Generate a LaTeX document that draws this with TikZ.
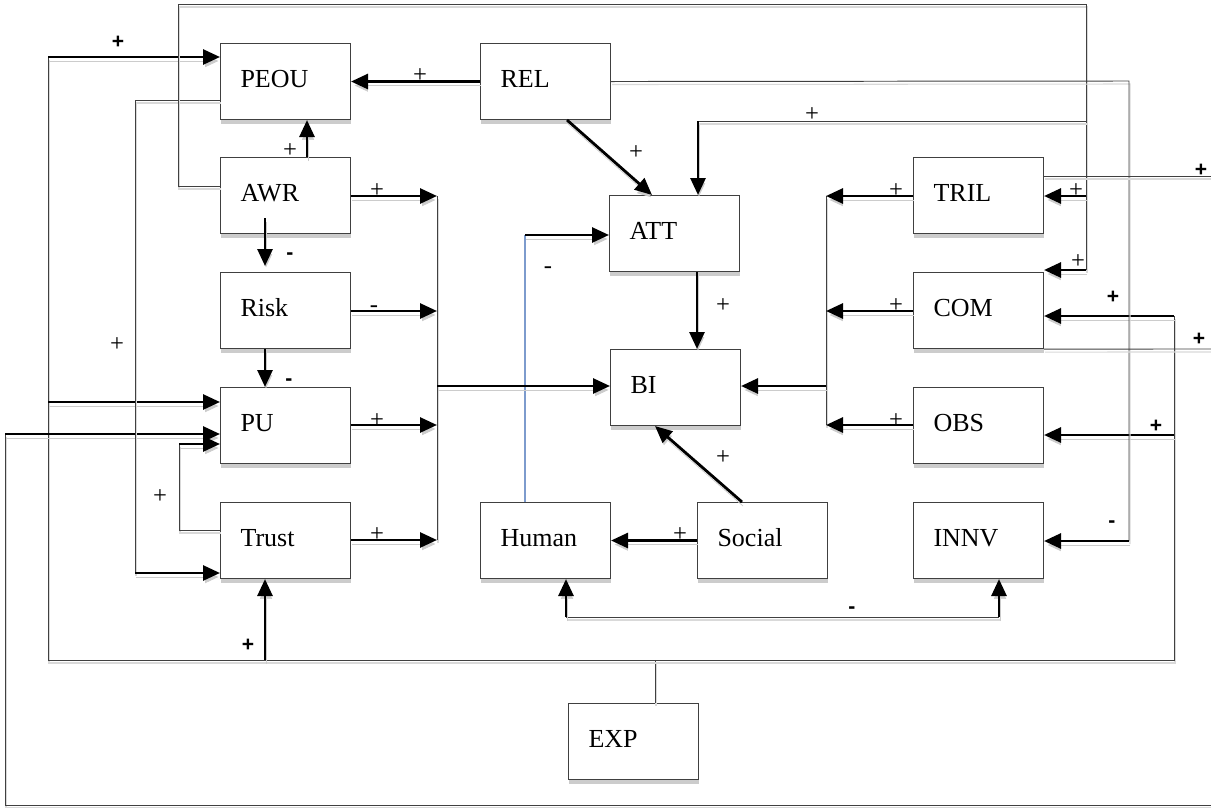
\documentclass[tikz,border=0pt]{standalone}
\usepackage{fontspec}
\setmainfont{Liberation Serif}
\newfontfamily\labsans{Liberation Sans}
\usetikzlibrary{arrows.meta,shadows}
\definecolor{paleblue}{RGB}{125,155,205}

\begin{document}
\begin{tikzpicture}[x=0.02cm,y=-0.02cm,
  box/.style={draw=black!75, line width=0.6pt, fill=white, anchor=north west,
    minimum width=2.6cm, minimum height=1.52cm, text width=1.8cm, inner xsep=0.4cm,
    text height=0.36cm, text depth=0.12cm,
    align=left, font=\fontsize{14.8}{17}\selectfont,
    drop shadow={shadow xshift=0.01cm, shadow yshift=-0.08cm, fill=black!20, opacity=1}},
  wire/.style={draw=black!75, line width=0.55pt,
    preaction={draw=black!15, line width=0.6pt, transform canvas={shift={(0.02cm,-0.06cm)}}}},
  wireblue/.style={draw=paleblue, line width=0.6pt},
  link/.style={draw=black, line width=1.6pt, -{Triangle[length=0.34cm,width=0.3cm]},
    preaction={draw=black!20, transform canvas={shift={(0.02cm,-0.08cm)}}}},
  pl/.style={font=\fontsize{14}{14}\selectfont, inner sep=0pt},
  ps/.style={font=\labsans\bfseries\fontsize{12}{12}\selectfont, inner sep=0pt}
]
\useasboundingbox (0,0) rectangle (1211,808);

% ---- boxes ----
\node[box] (peou)   at (220,43)  {PEOU};
\node[box] (awr)    at (220,157) {AWR};
\node[box] (risk)   at (220,272) {Risk};
\node[box] (pu)     at (220,387) {PU};
\node[box] (trust)  at (220,502) {Trust};
\node[box] (rel)    at (480,43)  {REL};
\node[box] (att)    at (609,195) {ATT};
\node[box] (bi)     at (610,349) {BI};
\node[box] (human)  at (480,502) {Human};
\node[box] (social) at (697,502) {Social};
\node[box] (tril)   at (913,157) {TRIL};
\node[box] (com)    at (913,272) {COM};
\node[box] (obs)    at (913,387) {OBS};
\node[box] (innv)   at (913,502) {INNV};
\node[box] (exp)    at (568,703) {EXP};

% ---- experience feedback loop ----
\coordinate (eL) at (48,660);
\coordinate (eR) at (1174,660);
\draw[wire] (exp.north -| 655,0) -- (655,660);
\draw[wire] (48,57) -- (eL) -- (eR) -- (1174,316);
\draw[link] (48,57) -- (peou.west |- 0,57);
\draw[link] (48,402) -- (pu.west |- 0,402);
\draw[link] (1174,316) -- (com.east |- 0,316);
\draw[link] (1174,435) -- (obs.east |- 0,435);
\draw[link] (265,660) -- (trust.south -| 265,0);

% ---- outer loop into PU ----
\draw[wire] (1211,805) -- (5,805) -- (5,434);
\draw[link] (5,434) -- (pu.west |- 0,434);

% ---- Trust -> PU ----
\draw[wire] (trust.west |- 0,530) -- (179,530) -- (179,444);
\draw[link] (179,444) -- (pu.west |- 0,444);

% ---- PEOU -> Trust ----
\draw[wire] (peou.west |- 0,100) -- (135,100) -- (135,573);
\draw[link] (135,573) -- (trust.west |- 0,573);

% ---- AWR -> PEOU ----
\draw[link] (awr.north -| 307,0) -- (peou.south -| 307,0);

% ---- AWR top loop ----
\draw[wire] (awr.west |- 0,186) -- (178,186) -- (178,4) -- (1086,4) -- (1086,270);
\draw[link] (1086,196) -- (tril.east |- 0,196);
\draw[link] (1086,270) -- (com.east |- 0,270);
\draw[wire] (1086,121) -- (698,121);
\draw[link] (698,121) -- (att.north -| 698,0);

% ---- REL ----
\draw[link] (rel.west) -- (peou.east);
\draw[link] (rel.south -| 567,0) -- (att.north -| 652,0);
\draw[wire] (rel.east) -- (1129,81) -- (1129,541);
\draw[link] (1129,541) -- (innv.east |- 0,541);

% ---- Human -> ATT ----
\draw[wireblue] (human.north -| 525,0) -- (525,235);
\draw[link] (525,235) -- (att.west |- 0,235);

% ---- ATT -> BI ----
\draw[link] (att.south -| 697,0) -- (bi.north -| 697,0);

% ---- left bus ----
\draw[wire] (437,196) -- (437,540);
\draw[link] (awr.east |- 0,196) -- (437,196);
\draw[link] (risk.east |- 0,311) -- (437,311);
\draw[link] (pu.east |- 0,425) -- (437,425);
\draw[link] (trust.east |- 0,540) -- (437,540);
\draw[link] (437,386) -- (bi.west |- 0,386);

% ---- right bus ----
\draw[wire] (826,196) -- (826,425);
\draw[link] (tril.west |- 0,196) -- (826,196);
\draw[link] (com.west |- 0,311) -- (826,311);
\draw[link] (obs.west |- 0,425) -- (826,425);
\draw[link] (826,386) -- (bi.east |- 0,386);

% ---- AWR -> Risk -> PU ----
\draw[link, shorten <=-0.32cm, shorten >=0.12cm] (awr.south -| 265,0) -- (risk.north -| 265,0);
\draw[link] (risk.south -| 265,0) -- (pu.north -| 265,0);

% ---- Social ----
\draw[link] (social.north -| 742,0) -- (bi.south -| 655,0);
\draw[link] (social.west) -- (human.east);

% ---- Human / INNV ----
\draw[wire] (566,617) -- (999,617);
\draw[link] (566,617) -- (human.south -| 566,0);
\draw[link] (999,617) -- (innv.south -| 999,0);

% ---- lines leaving to the right ----
\draw[wire] (tril.east |- 0,176) -- (1211,176);
\draw[wire] (com.south east) -- (1211,349);

% ---- signs ----
\node[ps] (s1)  at (118,42)  {+};
\node[pl] (s2)  at (117,345) {+};
\node[pl] (s3)  at (160,497) {+};
\node[ps] (s4)  at (248,645) {+};
\node[pl] (s5)  at (290,151) {+};
\node[ps] (s6)  at (290,256) {-};
\node[ps] (s7)  at (289,382) {-};
\node[pl] (s8)  at (377,191) {+};
\node[pl] (s9)  at (374,309) {-};
\node[pl] (s10) at (377,421) {+};
\node[pl] (s11) at (377,535) {+};
\node[pl] (s12) at (420,76)  {+};
\node[pl] (s13) at (636,153) {+};
\node[pl] (s14) at (812,115) {+};
\node[pl] (s15) at (548,270) {-};
\node[pl] (s16) at (723,306) {+};
\node[pl] (s17) at (723,458) {+};
\node[pl] (s18) at (680,535) {+};
\node[pl] (s19) at (896,191) {+};
\node[pl] (s20) at (1076,191) {+};
\node[pl] (s21) at (1078,262) {+};
\node[ps] (s22) at (1201,170) {+};
\node[pl] (s23) at (896,306) {+};
\node[ps] (s24) at (1113,297) {+};
\node[ps] (s25) at (1199,339) {+};
\node[pl] (s26) at (896,421) {+};
\node[ps] (s27) at (1156,426) {+};
\node[ps] (s28) at (1112,524) {-};
\node[ps] (s29) at (852,610) {-};
\end{tikzpicture}
\end{document}
